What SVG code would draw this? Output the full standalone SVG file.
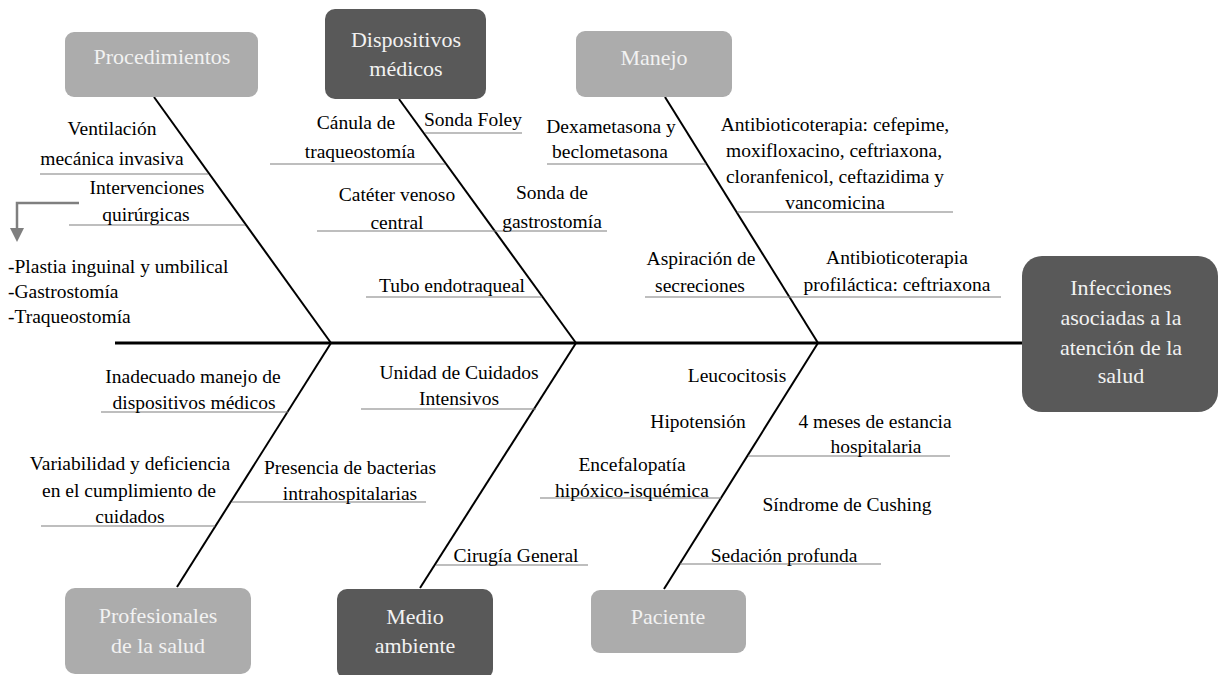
<svg xmlns="http://www.w3.org/2000/svg" width="1219" height="675" viewBox="0 0 1219 675">
<defs>
<style>
.t{font-family:"Liberation Serif","Times New Roman",serif;font-size:19.5px;fill:#000;text-anchor:middle}
.tl{font-family:"Liberation Serif","Times New Roman",serif;font-size:19.5px;fill:#000;text-anchor:start}
.bt{font-family:"Liberation Serif","Times New Roman",serif;font-size:22px;fill:#f2f2f2;text-anchor:middle}
.light{fill:#acacac}
.dark{fill:#595959}
.bone{stroke:#000;stroke-width:2;fill:none}
.ul{stroke:#7f7f7f;stroke-width:1.2;fill:none}
</style>
</defs>
<rect width="1219" height="675" fill="#fff"/>
<g id="connectors">
<line x1="115" y1="343" x2="1022" y2="343" stroke="#000" stroke-width="3"/>
<line class="bone" x1="154" y1="97" x2="331" y2="343"/>
<line class="bone" x1="399" y1="99" x2="576" y2="343"/>
<line class="bone" x1="665" y1="97" x2="818" y2="343"/>
<line class="bone" x1="331" y1="343" x2="177" y2="587"/>
<line class="bone" x1="576" y1="343" x2="420" y2="588"/>
<line class="bone" x1="818" y1="343" x2="664" y2="589"/>
<line class="ul" x1="40" y1="174" x2="208" y2="174"/>
<line class="ul" x1="69" y1="225" x2="245" y2="225"/>
<line class="ul" x1="425" y1="133" x2="522" y2="133"/>
<line class="ul" x1="270" y1="164" x2="445" y2="164"/>
<line class="ul" x1="317" y1="231" x2="607" y2="231"/>
<line class="ul" x1="366" y1="297" x2="542" y2="297"/>
<line class="ul" x1="547" y1="164" x2="706" y2="164"/>
<line class="ul" x1="737" y1="212" x2="953" y2="212"/>
<line class="ul" x1="645" y1="297" x2="1001" y2="297"/>
<line class="ul" x1="101" y1="412" x2="288" y2="412"/>
<line class="ul" x1="41" y1="526" x2="215" y2="526"/>
<line class="ul" x1="232" y1="502" x2="426" y2="502"/>
<line class="ul" x1="361" y1="409" x2="536" y2="409"/>
<line class="ul" x1="436" y1="565" x2="588" y2="565"/>
<line class="ul" x1="540" y1="498" x2="721" y2="498"/>
<line class="ul" x1="748" y1="456" x2="950" y2="456"/>
<line class="ul" x1="680" y1="564" x2="881" y2="564"/>
<polyline points="79,203 17,203 17,229" fill="none" stroke="#7f7f7f" stroke-width="2.5"/>
<polygon points="10,228 24,228 17,242" fill="#7f7f7f"/>
</g>
<g id="effect">
<rect class="dark" x="1022" y="256" width="196" height="156" rx="20"/>
<text class="bt" x="1121" y="295">Infecciones</text>
<text class="bt" x="1121" y="325">asociadas a la</text>
<text class="bt" x="1121" y="355">atención de la</text>
<text class="bt" x="1121" y="383">salud</text>
</g>
<g id="procedimientos">
<rect class="light" x="65" y="32" width="193" height="65" rx="9"/>
<text class="bt" x="162" y="64">Procedimientos</text>
<text class="t" x="112" y="135">Ventilación</text>
<text class="t" x="112" y="165">mecánica invasiva</text>
<text class="t" x="147" y="194">Intervenciones</text>
<text class="t" x="146" y="221">quirúrgicas</text>
<text class="tl" x="8" y="273">-Plastia inguinal y umbilical</text>
<text class="tl" x="8" y="298">-Gastrostomía</text>
<text class="tl" x="8" y="323">-Traqueostomía</text>
</g>
<g id="dispositivos">
<rect class="dark" x="325" y="9" width="161" height="90" rx="10"/>
<text class="bt" x="406" y="47">Dispositivos</text>
<text class="bt" x="406" y="76">médicos</text>
<text class="t" x="473" y="126">Sonda Foley</text>
<text class="t" x="356" y="129">Cánula de</text>
<text class="t" x="360" y="158">traqueostomía</text>
<text class="t" x="397" y="201">Catéter venoso</text>
<text class="t" x="397" y="229">central</text>
<text class="t" x="552" y="199">Sonda de</text>
<text class="t" x="552" y="228">gastrostomía</text>
<text class="t" x="452" y="292">Tubo endotraqueal</text>
</g>
<g id="manejo">
<rect class="light" x="576" y="31" width="156" height="66" rx="9"/>
<text class="bt" x="654" y="65">Manejo</text>
<text class="t" x="611" y="133">Dexametasona y</text>
<text class="t" x="610" y="158">beclometasona</text>
<text class="t" x="835" y="131">Antibioticoterapia: cefepime,</text>
<text class="t" x="834" y="157">moxifloxacino, ceftriaxona,</text>
<text class="t" x="835" y="183">cloranfenicol, ceftazidima y</text>
<text class="t" x="835" y="209">vancomicina</text>
<text class="t" x="701" y="265">Aspiración de</text>
<text class="t" x="700" y="292">secreciones</text>
<text class="t" x="897" y="264">Antibioticoterapia</text>
<text class="t" x="897" y="291">profiláctica: ceftriaxona</text>
</g>
<g id="profesionales">
<rect class="light" x="65" y="588" width="186" height="86" rx="10"/>
<text class="bt" x="158" y="623">Profesionales</text>
<text class="bt" x="158" y="653">de la salud</text>
<text class="t" x="193" y="383">Inadecuado manejo de</text>
<text class="t" x="194" y="409">dispositivos médicos</text>
<text class="t" x="130" y="470">Variabilidad y deficiencia</text>
<text class="t" x="129" y="497">en el cumplimiento de</text>
<text class="t" x="130" y="523">cuidados</text>
<text class="t" x="350" y="474">Presencia de bacterias</text>
<text class="t" x="350" y="500">intrahospitalarias</text>
</g>
<g id="medio">
<rect class="dark" x="337" y="589" width="156" height="90" rx="10"/>
<text class="bt" x="415" y="624">Medio</text>
<text class="bt" x="415" y="653">ambiente</text>
<text class="t" x="459" y="379">Unidad de Cuidados</text>
<text class="t" x="459" y="405">Intensivos</text>
<text class="t" x="516" y="562">Cirugía General</text>
</g>
<g id="paciente">
<rect class="light" x="591" y="590" width="155" height="63" rx="9"/>
<text class="bt" x="668" y="624">Paciente</text>
<text class="t" x="737" y="382">Leucocitosis</text>
<text class="t" x="698" y="428">Hipotensión</text>
<text class="t" x="632" y="471">Encefalopatía</text>
<text class="t" x="632" y="497">hipóxico-isquémica</text>
<text class="t" x="875" y="428">4 meses de estancia</text>
<text class="t" x="876" y="453">hospitalaria</text>
<text class="t" x="847" y="511">Síndrome de Cushing</text>
<text class="t" x="784" y="562">Sedación profunda</text>
</g>
</svg>
